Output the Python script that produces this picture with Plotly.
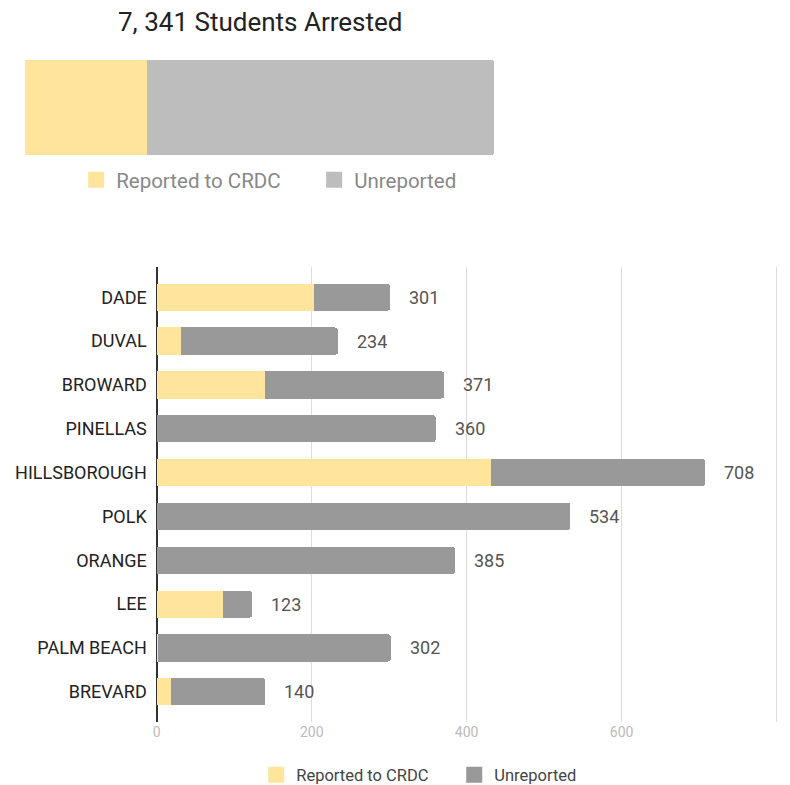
import plotly.graph_objects as go

# ---- data ----
total_label = "7, 341 Students Arrested"
total_reported = 1920
total_unreported = 5421

counties = ["DADE", "DUVAL", "BROWARD", "PINELLAS", "HILLSBOROUGH",
            "POLK", "ORANGE", "LEE", "PALM BEACH", "BREVARD"]
reported = [203, 31, 140, 0, 431, 0, 0, 85, 1, 19]
totals = [301, 234, 371, 360, 708, 534, 385, 123, 302, 140]
unreported = [t - r for t, r in zip(totals, reported)]

series_names = ["Reported to CRDC", "Unreported"]
x_ticks = [0, 200, 400, 600, 800]

YELLOW = "#FFE49C"
GRAY_TOP = "#BDBDBD"
GRAY_BOT = "#999999"
FONT = "Roboto"

OFFX, OFFY = 9.5, 8  # page offsets
W, H = 774, 785


def fx(p):
    return (p - OFFX) / W


def fy(p):
    return 1 - (p - OFFY) / H


fig = go.Figure()

# top single stacked bar
fig.add_trace(go.Bar(x=[total_reported], y=["All"], orientation="h",
                     marker=dict(color=YELLOW, line=dict(width=0)),
                     xaxis="x", yaxis="y", showlegend=False, hoverinfo="skip"))
fig.add_trace(go.Bar(x=[total_unreported], y=["All"], orientation="h",
                     marker=dict(color=GRAY_TOP, line=dict(width=0)),
                     xaxis="x", yaxis="y", showlegend=False, hoverinfo="skip"))

# bottom county bars
fig.add_trace(go.Bar(x=reported, y=counties, orientation="h",
                     marker=dict(color=YELLOW, line=dict(width=0)),
                     xaxis="x2", yaxis="y2", showlegend=False))
fig.add_trace(go.Bar(x=unreported, y=counties, orientation="h",
                     marker=dict(color=GRAY_BOT, line=dict(width=0)),
                     xaxis="x2", yaxis="y2", showlegend=False))

# legend proxies
for name, col in zip(series_names, [YELLOW, GRAY_TOP]):
    fig.add_trace(go.Scatter(x=[None], y=[None], mode="markers", name=name,
                             marker=dict(symbol="square", size=18, color=col),
                             xaxis="x", yaxis="y", legend="legend"))
for name, col in zip(series_names, [YELLOW, GRAY_BOT]):
    fig.add_trace(go.Scatter(x=[None], y=[None], mode="markers", name=name,
                             marker=dict(symbol="square", size=16, color=col),
                             xaxis="x2", yaxis="y2", legend="legend2"))

# value labels
annotations = []
for c, t in zip(counties, totals):
    annotations.append(dict(x=t, y=c, xref="x2", yref="y2", text=str(t),
                            showarrow=False, xanchor="left", xshift=17,
                            font=dict(family=FONT, size=18, color="#555555")))
annotations.append(dict(x=fx(258.5), y=fy(22), xref="paper", yref="paper",
                        text=total_label, showarrow=False,
                        xanchor="center", yanchor="middle",
                        font=dict(family=FONT, size=26, color="#222222")))

px_per_unit = (778 - 155) / 800.0
bw = 0.62
fig.update_layout(
    width=W, height=H,
    margin=dict(l=0, r=0, t=0, b=0),
    paper_bgcolor="white", plot_bgcolor="white",
    barmode="stack", bargap=1 - bw, barcornerradius=3,
    font=dict(family=FONT),
    xaxis=dict(domain=[fx(22.3), fx(494)], range=[0, total_reported + total_unreported],
               visible=False, fixedrange=True),
    yaxis=dict(domain=[fy(155), fy(60)], range=[-bw / 2, bw / 2],
               visible=False, fixedrange=True),
    xaxis2=dict(domain=[fx(155), fx(778 + 2 * px_per_unit)], range=[0, 802],
                tickvals=x_ticks,
                showgrid=True, gridcolor="#DDDDDD", gridwidth=1,
                zeroline=True, zerolinecolor="#333333", zerolinewidth=1.5,
                showline=False, ticks="",
                tickfont=dict(family=FONT, size=14, color="#BBBBBB"),
                anchor="y2"),
    yaxis2=dict(domain=[fy(722), fy(267)],
                categoryorder="array", categoryarray=counties,
                range=[9.5 + 0.19, -0.5 - 0.19],
                showgrid=False, zeroline=False, showline=False, ticks="",
                ticklabelstandoff=9,
                tickfont=dict(family=FONT, size=18, color="#222222"),
                anchor="x2"),
    legend=dict(orientation="h", x=fx(74), y=fy(180),
                xanchor="left", yanchor="middle", traceorder="normal",
                font=dict(family=FONT, size=20.5, color="#888888"),
                entrywidth=193, entrywidthmode="pixels",
                bgcolor="rgba(0,0,0,0)"),
    legend2=dict(orientation="h", x=fx(255), y=fy(775),
                 xanchor="left", yanchor="middle", traceorder="normal",
                 font=dict(family=FONT, size=16.5, color="#444444"),
                 entrywidth=153, entrywidthmode="pixels",
                 bgcolor="rgba(0,0,0,0)"),
    annotations=annotations,
)

fig.write_html("out.html")
